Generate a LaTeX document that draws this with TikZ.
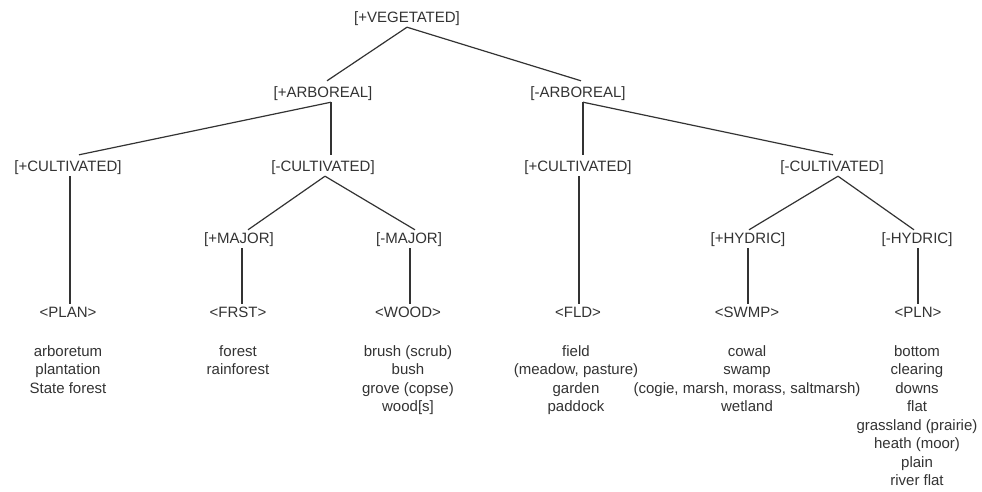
\documentclass[tikz,border=0pt]{standalone}
\usepackage{fontspec}
\setmainfont{Liberation Sans}
\definecolor{txt}{HTML}{333333}
\definecolor{ln}{HTML}{333333}
\begin{document}
\begin{tikzpicture}[x=1pt,y=-1pt,
  lab/.style={font=\fontsize{15}{18.5}\selectfont, text=txt, inner xsep=0pt, inner ysep=2pt, text height=11pt, text depth=3pt},
  lst/.style={font=\fontsize{15}{18.5}\selectfont, text=txt, align=center, inner sep=0pt, anchor=north},
  link/.style={draw=ln, line width=1.2pt}]
\useasboundingbox[fill=white] (0,0) rectangle (982,491);
% feature nodes
\node[lab] (veg)    at (407,18)  {[+VEGETATED]};
\node[lab] (arbP)   at (323,93)  {[+ARBOREAL]};
\node[lab] (arbM)   at (578,93)  {[-ARBOREAL]};
\node[lab] (cultPL) at (68,167)  {[+CULTIVATED]};
\node[lab] (cultML) at (323,167) {[-CULTIVATED]};
\node[lab] (cultPR) at (578,167) {[+CULTIVATED]};
\node[lab] (cultMR) at (832,167) {[-CULTIVATED]};
\node[lab] (majP)   at (239,239) {[+MAJOR]};
\node[lab] (majM)   at (409,239) {[-MAJOR]};
\node[lab] (hydP)   at (748,239) {[+HYDRIC]};
\node[lab] (hydM)   at (917,239) {[-HYDRIC]};
% category nodes
\node[lab] (plan) at (68,313)  {<PLAN>};
\node[lab] (frst) at (238,313) {<FRST>};
\node[lab] (wood) at (408,313) {<WOOD>};
\node[lab] (fld)  at (578,313) {<FLD>};
\node[lab] (swmp) at (747,313) {<SWMP>};
\node[lab] (pln)  at (918,313) {<PLN>};
% word lists
\node[lst] (lplan) at (68,345)  {arboretum\\plantation\\State forest};
\node[lst] (lfrst) at (238,345) {forest\\rainforest};
\node[lst] (lwood) at (408,345) {brush (scrub)\\bush\\grove (copse)\\wood[s]};
\node[lst] (lfld)  at (576,345) {field\\(meadow, pasture)\\garden\\paddock};
\node[lst] (lswmp) at (747,345) {cowal\\swamp\\(cogie, marsh, morass, saltmarsh)\\wetland};
\node[lst] (lpln)  at (917,345) {bottom\\clearing\\downs\\flat\\grassland (prairie)\\heath (moor)\\plain\\river flat};
% connectors
\draw[link] (veg.south) -- ([xshift=4pt,yshift=3pt]arbP.north);
\draw[link] (veg.south) -- ([xshift=3pt,yshift=3pt]arbM.north);
\draw[link] ([xshift=8pt]arbP.south) -- ([xshift=11pt,yshift=3pt]cultPL.north);
\draw[link] ([xshift=8pt]arbP.south) -- ([xshift=8pt,yshift=3pt]cultML.north);
\draw[link] ([xshift=2pt]cultML.south) -- ([xshift=9pt]majP.north);
\draw[link] ([xshift=2pt]cultML.south) -- ([xshift=6pt]majM.north);
\draw[link] ([xshift=2pt]cultPL.south) -- ([xshift=2pt]plan.north);
\draw[link] ([xshift=3pt]majP.south) -- ([xshift=4pt]frst.north);
\draw[link] ([xshift=1pt]majM.south) -- ([xshift=2pt]wood.north);
\draw[link] ([xshift=5pt]arbM.south) -- ([xshift=5pt,yshift=3pt]cultPR.north);
\draw[link] ([xshift=5pt]arbM.south) -- ([xshift=1pt,yshift=3pt]cultMR.north);
\draw[link] ([xshift=1pt]cultPR.south) -- ([xshift=1pt]fld.north);
\draw[link] ([xshift=6pt]cultMR.south) -- ([xshift=1pt]hydP.north);
\draw[link] ([xshift=6pt]cultMR.south) -- ([xshift=-3pt]hydM.north);
\draw[link] (hydP.south) -- ([xshift=1pt]swmp.north);
\draw[link] ([xshift=1pt]hydM.south) -- (pln.north);
\end{tikzpicture}
\end{document}
